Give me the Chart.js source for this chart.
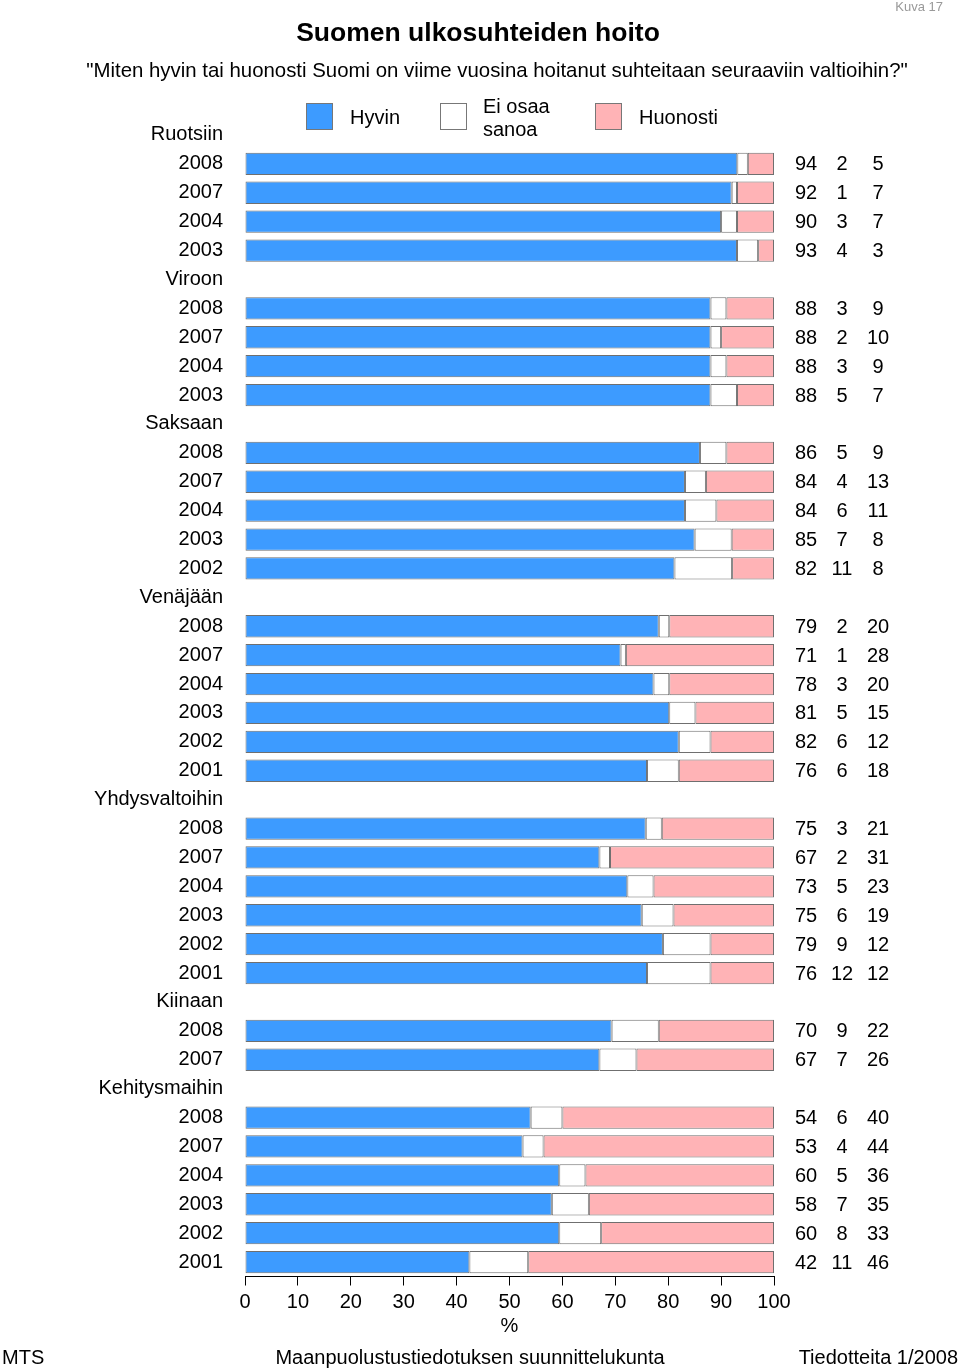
<!DOCTYPE html>
<html>
<head>
<meta charset="utf-8">
<script src="https://cdn.jsdelivr.net/npm/chart.js@4.4.1/dist/chart.umd.min.js"></script>
<style>
  html, body { margin: 0; padding: 0; background: #fff; }
</style>
</head>
<body>
<canvas id="chart" width="960" height="1369"></canvas>
<script>
const categories = [
  'Ruotsiin', '2008', '2007', '2004', '2003',
  'Viroon', '2008', '2007', '2004', '2003',
  'Saksaan', '2008', '2007', '2004', '2003', '2002',
  'Venäjään', '2008', '2007', '2004', '2003', '2002', '2001',
  'Yhdysvaltoihin', '2008', '2007', '2004', '2003', '2002', '2001',
  'Kiinaan', '2008', '2007',
  'Kehitysmaihin', '2008', '2007', '2004', '2003', '2002', '2001'
];
const hyvin = [
  null, 94, 92, 90, 93,
  null, 88, 88, 88, 88,
  null, 86, 84, 84, 85, 82,
  null, 79, 71, 78, 81, 82, 76,
  null, 75, 67, 73, 75, 79, 76,
  null, 70, 67,
  null, 54, 53, 60, 58, 60, 42
];
const eiOsaa = [
  null, 2, 1, 3, 4,
  null, 3, 2, 3, 5,
  null, 5, 4, 6, 7, 11,
  null, 2, 1, 3, 5, 6, 6,
  null, 3, 2, 5, 6, 9, 12,
  null, 9, 7,
  null, 6, 4, 5, 7, 8, 11
];
const huonosti = [
  null, 5, 7, 7, 3,
  null, 9, 10, 9, 7,
  null, 9, 13, 11, 8, 8,
  null, 20, 28, 20, 15, 12, 18,
  null, 21, 31, 23, 19, 12, 12,
  null, 22, 26,
  null, 40, 44, 36, 35, 33, 46
];
const seriesLabels = ['Hyvin', 'Ei osaa sanoa', 'Huonosti'];
const xTicks = [0, 10, 20, 30, 40, 50, 60, 70, 80, 90, 100];

const FONT = '"Liberation Sans", Arial, sans-serif';
Chart.defaults.font.family = FONT;
Chart.defaults.color = '#000';

// bars are drawn as shares of the row total so every row ends at 100
const share = arr => arr.map((v, i) => {
  if (v === null) return null;
  return v / (hyvin[i] + eiOsaa[i] + huonosti[i]) * 100;
});

const colors = ['#3d9bff', '#ffffff', '#ffb3b6'];
const raw = [hyvin, eiOsaa, huonosti];

const textPlugin = {
  id: 'texts',
  afterDraw(chart) {
    const ctx = chart.ctx;
    const y = chart.scales.y;
    ctx.save();
    ctx.fillStyle = '#000';
    ctx.textBaseline = 'middle';

    // title
    ctx.textAlign = 'center';
    ctx.font = 'bold 26.5px ' + FONT;
    ctx.fillText('Suomen ulkosuhteiden hoito', 478, 34);
    ctx.font = '20.4px ' + FONT;
    ctx.fillText('"Miten hyvin tai huonosti Suomi on viime vuosina hoitanut suhteitaan seuraaviin valtioihin?"', 497, 71);

    ctx.fillStyle = '#999';
    ctx.textAlign = 'right';
    ctx.font = '13px ' + FONT;
    ctx.fillText('Kuva 17', 943, 7);

    // legend
    const legend = [
      { x: 306, lines: ['Hyvin'] },
      { x: 440, lines: ['Ei osaa', 'sanoa'] },
      { x: 595, lines: ['Huonosti'] }
    ];
    ctx.font = '20px ' + FONT;
    ctx.textAlign = 'left';
    legend.forEach((l, i) => {
      ctx.fillStyle = colors[i];
      ctx.fillRect(l.x, 103, 27, 27);
      ctx.strokeStyle = '#777';
      ctx.lineWidth = 1;
      ctx.strokeRect(l.x + 0.5, 103.5, 26, 26);
      ctx.fillStyle = '#000';
      if (l.lines.length === 1) {
        ctx.fillText(l.lines[0], l.x + 44, 118);
      } else {
        ctx.fillText(l.lines[0], l.x + 43, 107);
        ctx.fillText(l.lines[1], l.x + 43, 130);
      }
    });

    // numbers at the right
    const cols = [806, 842, 878];
    ctx.textAlign = 'center';
    categories.forEach((c, i) => {
      if (hyvin[i] === null) return;
      const py = y.getPixelForValue(i);
      raw.forEach((arr, k) => ctx.fillText(String(arr[i]), cols[k], py + 1));
    });

    // footer
    ctx.textAlign = 'left';
    ctx.fillText('MTS', 2, 1358);
    ctx.textAlign = 'center';
    ctx.fillText('Maanpuolustustiedotuksen suunnittelukunta', 470, 1358);
    ctx.textAlign = 'right';
    ctx.fillText('Tiedotteita 1/2008', 958, 1358);
    ctx.restore();
  }
};

new Chart(document.getElementById('chart'), {
  type: 'bar',
  data: {
    labels: categories,
    datasets: raw.map((arr, k) => ({
      label: seriesLabels[k],
      data: share(arr),
      backgroundColor: colors[k],
      borderColor: '#6f6f6f',
      borderWidth: 1,
      borderSkipped: false,
      categoryPercentage: 1,
      barPercentage: 0.77
    }))
  },
  options: {
    indexAxis: 'y',
    responsive: false,
    animation: false,
    devicePixelRatio: 1,
    layout: { padding: { top: 120.5, right: 186, bottom: 30.5, left: 0 } },
    plugins: { legend: { display: false }, tooltip: { enabled: false } },
    scales: {
      x: {
        stacked: true,
        min: 0,
        max: 100,
        afterBuildTicks: s => { s.ticks = xTicks.map(v => ({ value: v })); },
        afterFit: s => { s.height = 62; },
        grid: { drawOnChartArea: false, drawTicks: true, tickLength: 9, color: '#000' },
        border: { display: true, color: '#000', width: 1 },
        ticks: { font: { size: 20 }, color: '#000', padding: 5, maxRotation: 0 },
        title: { display: true, text: '%', font: { size: 20 }, color: '#000', padding: { top: 0, bottom: 0 } }
      },
      y: {
        stacked: true,
        afterFit: s => { s.width = 245; },
        grid: { display: false, drawTicks: false },
        border: { display: false },
        ticks: { autoSkip: false, font: { size: 20 }, color: '#000', padding: 22 }
      }
    }
  },
  plugins: [textPlugin]
});
</script>
</body>
</html>
